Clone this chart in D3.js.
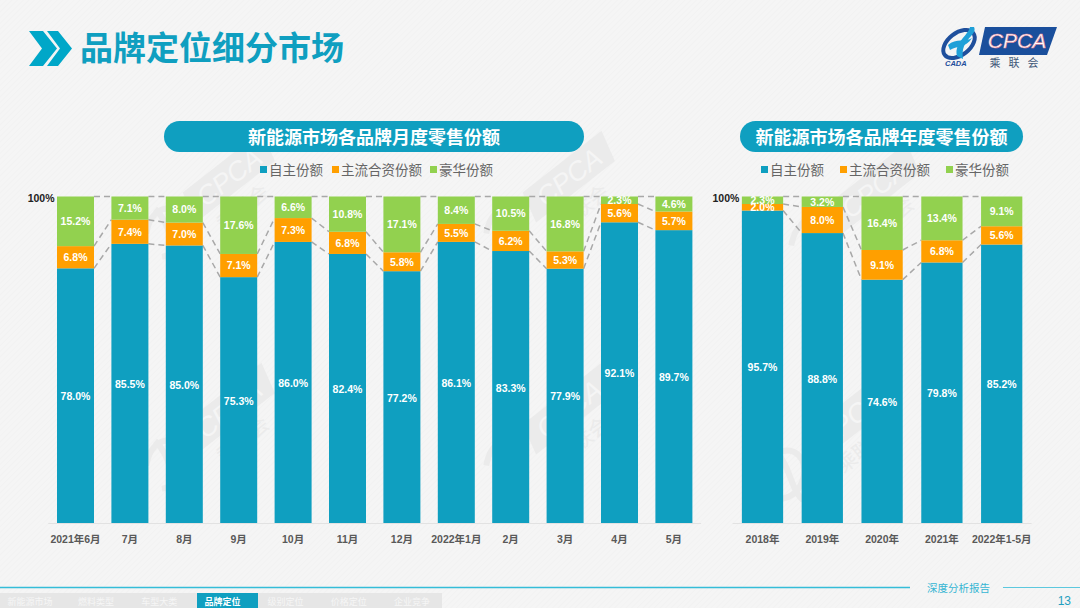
<!DOCTYPE html>
<html><head><meta charset="utf-8">
<script src="https://cdn.jsdelivr.net/npm/d3@7"></script>
<style>
html,body{margin:0;padding:0;background:#f4f4f4;overflow:hidden}
svg{display:block}
text{font-family:"Noto Sans CJK SC","Liberation Sans",sans-serif}
.num{font-family:"Liberation Sans","Noto Sans CJK SC",sans-serif}
</style></head><body>
<svg id="c" width="1080" height="608"></svg>
<script>
const pageTitle = "品牌定位细分市场";
const seriesNames = ["自主份额","主流合资份额","豪华份额"];
const seriesColors = ["#0f9fc0","#ff9f00","#92d14f"];

const monthCategories = ["2021年6月","7月","8月","9月","10月","11月","12月","2022年1月","2月","3月","4月","5月"];
const monthOwn     = [78.0,85.5,85.0,75.3,86.0,82.4,77.2,86.1,83.3,77.9,92.1,89.7];
const monthJoint   = [6.8,7.4,7.0,7.1,7.3,6.8,5.8,5.5,6.2,5.3,5.6,5.7];
const monthLuxury  = [15.2,7.1,8.0,17.6,6.6,10.8,17.1,8.4,10.5,16.8,2.3,4.6];

const yearCategories = ["2018年","2019年","2020年","2021年","2022年1-5月"];
const yearOwn    = [95.7,88.8,74.6,79.8,85.2];
const yearJoint  = [2.0,8.0,9.1,6.8,5.6];
const yearLuxury = [2.3,3.2,16.4,13.4,9.1];

const navItems = ["新能源市场","燃料类型","车型大类","品牌定位","级别定位","价格定位","企业竞争"];
const activeNav = "品牌定位";

const svg = d3.select("#c");
const defs = svg.append("defs");
const pat = defs.append("pattern").attr("id","hatch").attr("width",4).attr("height",4)
  .attr("patternUnits","userSpaceOnUse").attr("patternTransform","rotate(-45)");
pat.append("rect").attr("width",4).attr("height",4).attr("fill","#f5f5f5");
pat.append("rect").attr("width",4).attr("height",1).attr("fill","#f2f2f2");
svg.append("rect").attr("width",1080).attr("height",608).attr("fill","url(#hatch)");

// watermarks
function watermark(x,y){
  const g = svg.append("g").attr("transform",`translate(${x},${y}) rotate(-38)`);
  g.append("path").attr("d","M-8,-26 L92,-26 L84,6 L-16,6 Z").attr("fill","#ebebeb");
  g.append("text").attr("x",38).attr("y",0).attr("text-anchor","middle").attr("font-size",27).attr("font-style","italic")
    .attr("class","num").attr("fill","#f5f5f5").text("CPCA");
  g.append("path").attr("d","M-62,-16 C-42,-34 -22,-26 -24,-6 C-30,12 -50,20 -64,12 M-40,-30 C-36,-10 -52,10 -48,26")
    .attr("fill","none").attr("stroke","#ebebeb").attr("stroke-width",6);
  g.append("text").attr("x",30).attr("y",30).attr("text-anchor","middle").attr("font-size",20).attr("fill","#ebebeb").text("乘联会");
}
[[205,208],[545,208],[850,220],[205,440],[545,440],[825,450]].forEach(p=>watermark(p[0],p[1]));

// header
const tc="#0f9fc0";
svg.append("path").attr("d","M29,31 L43,31 L57,48.5 L43,66 L29,66 L42,48.5 Z").attr("fill","#00a7c8");
svg.append("path").attr("d","M47,31 L58,31 L72,48.5 L58,66 L47,66 L60,48.5 Z").attr("fill","#00a7c8");
svg.append("text").attr("x",80).attr("y",60).attr("font-size",33).attr("font-weight",700).attr("fill",tc).text(pageTitle);

// logo
const lg = svg.append("g");
lg.append("ellipse").attr("cx",959).attr("cy",44).attr("rx",18).attr("ry",11).attr("transform","rotate(-38 959 44)")
  .attr("fill","none").attr("stroke","#1f4f9c").attr("stroke-width",4);
lg.append("path").attr("d","M974,27 C978,36 960,38 963,59 L957,56 C954,42 968,36 970,27 Z").attr("fill","#1fa0d8");
lg.append("path").attr("d","M948,45 C956,38 966,42 972,38 C966,48 956,46 950,50 Z").attr("fill","#1fa0d8");
lg.append("text").attr("x",945).attr("y",66).attr("font-size",7.5).attr("font-weight",700).attr("font-style","italic").attr("class","num").attr("fill","#1f4f9c").text("CADA");
lg.append("path").attr("d","M985,27 L1057,27 L1047,55 L979,55 Z").attr("fill","#1a4f9c");
lg.append("text").attr("x",1017).attr("y",48).attr("text-anchor","middle").attr("font-size",21).attr("font-style","italic").attr("class","num")
  .attr("fill","#fff").attr("stroke","#e9808f").attr("stroke-width",.5).text("CPCA");
lg.append("text").attr("x",1018).attr("y",66.5).attr("text-anchor","middle").attr("font-size",11).attr("letter-spacing",8).attr("fill","#3f5878").text("乘联会");

function chart(cfg){
  const x = d3.scaleBand().domain(cfg.cats).range(cfg.range).paddingInner(cfg.pad).paddingOuter(cfg.pad/2);
  const y = d3.scaleLinear().domain([0,100]).range([523,196.5]);
  const rows = cfg.cats.map((c,i)=>({cat:c,a:cfg.own[i],b:cfg.joint[i],c:cfg.lux[i]}));
  const stack = d3.stack().keys(["a","b","c"]).offset(d3.stackOffsetExpand);
  const layers = stack(rows);

  // pill
  svg.append("rect").attr("x",cfg.pill[0]).attr("y",121).attr("width",cfg.pill[1]-cfg.pill[0]).attr("height",31)
    .attr("rx",15.5).attr("fill",tc);
  svg.append("text").attr("x",(cfg.pill[0]+cfg.pill[1])/2).attr("y",143.5).attr("text-anchor","middle")
    .attr("font-size",18).attr("font-weight",700).attr("fill","#fff").text(cfg.title);

  // legend
  const lgd = svg.append("g");
  seriesNames.forEach((n,i)=>{
    lgd.append("rect").attr("x",cfg.legend[i]).attr("y",166).attr("width",7).attr("height",7).attr("fill",seriesColors[i]);
    lgd.append("text").attr("x",cfg.legend[i]+9).attr("y",175).attr("font-size",13.5).attr("fill","#666").text(n);
  });

  // axis baseline
  svg.append("line").attr("x1",cfg.range[0]).attr("x2",cfg.range[1]).attr("y1",y(0)+.5).attr("y2",y(0)+.5)
    .attr("stroke","#e2e2e2").attr("stroke-width",1);

  // connectors
  const conn = svg.append("g").attr("fill","none").attr("stroke","#a8a8a8").attr("stroke-width",1.5).attr("stroke-dasharray","6 4");
  layers.forEach(l=>{
    l.forEach((d,i)=>{
      if(i===l.length-1) return;
      conn.append("line")
        .attr("x1",x(cfg.cats[i])+x.bandwidth()).attr("x2",x(cfg.cats[i+1]))
        .attr("y1",y(d[1]*100)).attr("y2",y(l[i+1][1]*100));
    });
  });

  // bars
  layers.forEach((l,k)=>{
    svg.append("g").selectAll("rect").data(l).join("rect")
      .attr("x",d=>x(d.data.cat)).attr("width",x.bandwidth())
      .attr("y",d=>y(d[1]*100)).attr("height",d=>y(d[0]*100)-y(d[1]*100))
      .attr("fill",seriesColors[k]);
    svg.append("g").selectAll("text").data(l).join("text").attr("class","num")
      .attr("x",d=>x(d.data.cat)+x.bandwidth()/2)
      .attr("y",d=>(y(d[0]*100)+y(d[1]*100))/2+(k===0?4.6:3.8))
      .attr("text-anchor","middle").attr("font-size",10.5).attr("font-weight",700).attr("fill","#fff")
      .text(d=>d.data[["a","b","c"][k]].toFixed(1)+"%");
  });

  // category labels
  const ax = d3.axisBottom(x).tickSize(0).tickPadding(0);
  const ag = svg.append("g").attr("transform","translate(0,523)").call(ax);
  ag.select(".domain").remove();
  ag.selectAll("text").attr("y",20).attr("dy",0).attr("font-size",10.5).attr("font-weight",700).attr("fill","#595959")
    .style("font-family",'"Liberation Sans","Noto Sans CJK SC",sans-serif');

  // 100% label
  svg.append("text").attr("class","num").attr("x",x(cfg.cats[0])-2.5).attr("y",y(100)+5).attr("text-anchor","end")
    .attr("font-size",10.5).attr("font-weight",700).attr("fill","#222").text("100%");
}

chart({title:"新能源市场各品牌月度零售份额",cats:monthCategories,own:monthOwn,joint:monthJoint,lux:monthLuxury,
  range:[48.3,701.1],pad:0.32,pill:[164,584],legend:[260,332,430]});
chart({title:"新能源市场各品牌年度零售份额",cats:yearCategories,own:yearOwn,joint:yearJoint,lux:yearLuxury,
  range:[732.6,1031.6],pad:0.31,pill:[740,1023],legend:[761,840,946]});

// footer
svg.append("line").attr("x1",0).attr("x2",910).attr("y1",587.5).attr("y2",587.5).attr("stroke","#35bdd8").attr("stroke-width",1.6);
svg.append("line").attr("x1",1003).attr("x2",1080).attr("y1",587.5).attr("y2",587.5).attr("stroke","#5cc8de").attr("stroke-width",1.2);
svg.append("text").attr("x",927).attr("y",592).attr("font-size",10.5).attr("fill","#35b5d3").text("深度分析报告");
svg.append("text").attr("class","num").attr("x",1071).attr("y",605).attr("text-anchor","end").attr("font-size",12).attr("fill","#1f9fc0").text("13");
svg.append("rect").attr("x",0).attr("y",593).attr("width",442).attr("height",15).attr("fill","#e6e6e6");
const navX = d3.scalePoint().domain(navItems.slice(1)).range([96,412]);
navItems.forEach((n)=>{
  const cx = n==="新能源市场"?30:navX(n);
  if(n===activeNav) svg.append("rect").attr("x",197).attr("y",593).attr("width",61).attr("height",15).attr("fill",tc);
  svg.append("text").attr("x",cx).attr("y",605).attr("text-anchor","middle").attr("font-size",9).attr("font-weight",n===activeNav?700:400)
    .attr("fill",n===activeNav?"#fff":"#f6f6f6").text(n);
});
</script></body></html>
